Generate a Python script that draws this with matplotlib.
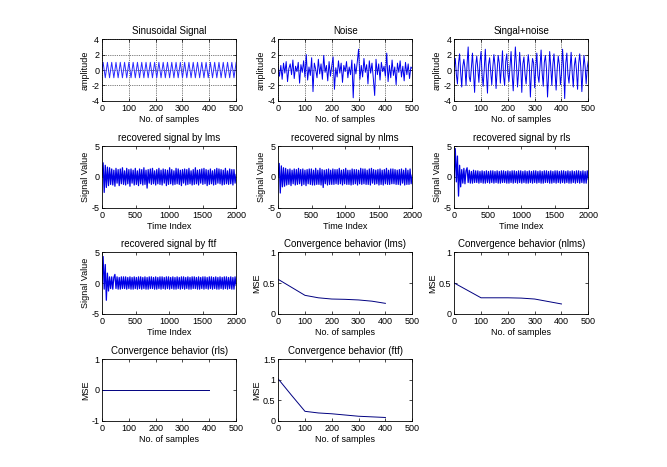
import numpy as np
import matplotlib
matplotlib.use("Agg")
import matplotlib.pyplot as plt
from matplotlib.ticker import FormatStrFormatter

plt.rcParams['font.family'] = ['Liberation Sans', 'DejaVu Sans']

# sinusoid, sampled every 4 samples (period ~16)
sine_x = np.arange(0, 501, 4)
sine_y = [0, 1, 0, -1, 0, 1, 0, -1, 0, 1, 0, -1, 0, 1, 0, -1, 0, 1, 0, -1,
          0, 1, 0, -1, 0, 1, 0, -1, 0, 1, 0, -1, 0, 1, 0, -1, 0, 1, 0, -1,
          0, 1, 0, -1, 0, 1, 0, -1, 0, 1, 0, -1, 0, 1, 0, -1, 0, 1, 0, -1,
          0, 1, 0, -1, 0, 1, 0, -1, 0, 1, 0, -1, 0, 1, 0, -1, 0, 1, 0, -1,
          0, 1, 0, -1, 0, 1, 0, -1, 0, 1, 0, -1, 0, 1, 0, -1, 0, 1, 0, -1,
          0, 1, 0, -1, 0, 1, 0, -1, 0, 1, 0, -1, 0, 1, 0, -1, 0, 1, 0, -1,
          0, 1, 0, -1, 0, 1]

# noise, every 5 samples
noise_x = np.arange(0, 501, 5)
noise_y = [0.3, -0.8, 0.6, -1.2, 0.9, -0.4, 1.1, -1.5, 0.2, 0.8,
           -0.6, 1.3, -1.1, 0.5, -0.2, 1.0, -1.7, 0.7, -0.3, 1.2,
           -0.9, 2.0, -1.3, 0.4, -0.7, 1.6, -2.8, 0.9, 0.1, -1.0,
           1.4, -0.5, 0.8, -1.2, 1.9, -0.3, 0.6, -1.4, 1.1, -0.8,
           0.5, 1.7, -2.5, 0.3, -0.9, 1.2, -0.4, 0.9, -1.6, 0.6,
           -0.2, 1.1, -1.0, 0.4, -0.6, 1.3, -3.6, 0.8, -0.5, 1.0,
           2.7, -1.2, 0.6, -0.9, 1.5, -0.3, 0.7, -1.8, 1.2, -0.4,
           0.9, -1.1, -3.3, 1.4, -0.6, 0.8, -1.3, 1.0, -0.2, 0.5,
           -0.8, 2.2, -1.5, 0.6, -1.0, 1.3, -0.7, 0.4, -1.9, 0.9,
           -0.3, 1.2, -0.9, 0.5, -1.4, 1.0, -0.6, 0.8, -1.1, 0.4,
           0.2]

# signal + noise, every 4 samples
sn_x = np.arange(0, 501, 4)
sn_y = [0.4, 1.5, -0.6, -1.8, 0.9, 2.1, -0.3, -2.2, 0.5, 1.4,
        0.2, -2.0, 0.8, 3.0, -0.9, -1.5, 0.3, 2.2, -0.4, -2.9,
        0.6, 1.8, 0.1, -1.6, 1.0, 2.4, -0.7, -2.1, 0.2, 2.7,
        -0.5, -3.0, 0.7, 1.6, -0.2, -1.9, 0.4, 2.0, 0.6, -2.4,
        -0.1, 1.9, 0.9, -1.7, 0.3, 2.5, -0.8, -2.0, 1.1, 2.1,
        -0.4, -1.5, 0.5, 2.4, -0.6, -2.7, 0.2, 3.0, 0.7, -2.2,
        -0.3, 2.3, 0.4, -2.9, 0.8, 1.7, -0.5, -1.8, 0.1, 2.0,
        0.6, -3.5, -0.2, 1.5, 0.9, -2.3, 0.3, 2.2, -0.7, -1.6,
        0.5, 2.6, -0.4, -2.1, 1.0, 1.9, 0.2, -3.5, -0.6, 2.4,
        0.4, -2.0, 0.8, 2.1, -0.3, -2.6, 0.1, 1.8, 0.7, -1.9,
        -0.5, 2.7, 0.3, -3.7, 0.9, 2.2, -0.6, -1.7, 0.2, 2.3,
        -0.4, -2.2, 0.6, 1.6, -0.1, -2.5, 0.8, 2.1, 0.4, -2.8,
        -0.2, 1.9, 0.5, -1.8, 0.3, 1.2]

# recovered signals, every 16 samples
rec_x = np.arange(0, 2001, 16)
lms_rec = [0.0, 2.3, -2.5, 1.9, -1.7, 1.6, -1.4, 1.5, -1.2, 1.3,
           -1.3, 1.1, -1.5, 1.4, -1.0, 1.2, -1.4, 1.3, -1.1, 1.5,
           -1.2, 1.0, -1.3, 1.4, -1.1, 1.2, -1.5, 1.3, -1.0, 1.1,
           -1.3, 1.4, -1.2, 1.0, -1.4, 1.3, -1.1, 1.2, -1.3, 1.5,
           -1.2, 1.1, -1.8, 1.2, -1.0, 1.3, -1.2, 1.4, -1.1, 1.0,
           -1.3, 1.2, -1.1, 1.4, -1.2, 1.1, -1.3, 1.3, -1.0, 1.2,
           -1.4, 1.1, -1.2, 1.5, -1.1, 1.2, -1.3, 1.0, -1.2, 1.4,
           -1.1, 1.3, -1.2, 1.1, -1.4, 1.2, -1.0, 1.3, -1.3, 1.2,
           -1.2, 1.4, -1.1, 1.0, -1.3, 1.2, -1.2, 1.5, -1.1, 1.1,
           -1.3, 1.2, -1.0, 1.3, -1.2, 1.4, -1.1, 1.2, -1.4, 1.1,
           -1.2, 1.3, -1.1, 1.0, -1.3, 1.2, -1.2, 1.4, -1.0, 1.3,
           -1.1, 1.2, -1.3, 1.1, -1.2, 1.4, -1.1, 1.0, -1.2, 1.3,
           -1.1, 1.2, -1.3, 1.2, -1.0, 0.4]
nlms_rec = [0.0, 2.2, -2.6, 1.8, -1.6, 1.5, -1.5, 1.4, -1.3, 1.2,
            -1.2, 1.3, -1.4, 1.1, -1.1, 1.3, -1.3, 1.2, -1.2, 1.4,
            -1.1, 1.2, -1.4, 1.3, -1.2, 1.1, -1.4, 1.2, -1.1, 1.3,
            -1.2, 1.3, -1.3, 1.1, -1.3, 1.4, -1.2, 1.1, -1.2, 1.4,
            -1.3, 1.2, -1.7, 1.1, -1.1, 1.2, -1.3, 1.3, -1.2, 1.1,
            -1.2, 1.3, -1.2, 1.2, -1.1, 1.2, -1.2, 1.4, -1.1, 1.1,
            -1.3, 1.2, -1.1, 1.4, -1.2, 1.1, -1.2, 1.1, -1.3, 1.3,
            -1.2, 1.2, -1.1, 1.2, -1.3, 1.1, -1.1, 1.4, -1.2, 1.3,
            -1.1, 1.3, -1.2, 1.1, -1.2, 1.3, -1.3, 1.4, -1.0, 1.2,
            -1.2, 1.1, -1.1, 1.2, -1.3, 1.3, -1.2, 1.1, -1.3, 1.2,
            -1.1, 1.4, -1.2, 1.1, -1.2, 1.3, -1.1, 1.3, -1.1, 1.2,
            -1.2, 1.1, -1.2, 1.2, -1.3, 1.3, -1.0, 1.1, -1.3, 1.4,
            -1.2, 1.1, -1.2, 1.3, -1.1, 0.3]
rls_rec = [0.0, 4.6, -0.8, 3.4, -3.1, 1.9, -1.6, 1.2, -1.0, 1.4,
           -1.1, 1.0, 1.5, -0.9, 1.1, -1.0, 0.9, -1.0, 1.1, -0.9,
           1.0, -0.9, 1.0, -1.0, 0.9, -0.9, 1.0, -1.0, 0.9, -1.0,
           1.0, -0.9, 0.9, -1.0, 1.0, -0.9, 1.0, -1.0, 0.9, -0.9,
           1.0, -1.0, 0.9, -1.0, 1.0, -0.9, 1.0, -0.9, 0.9, -1.0,
           1.0, -1.0, 0.9, -0.9, 1.0, -1.0, 1.0, -0.9, 0.9, -1.0,
           1.0, -0.9, 1.0, -1.0, 0.9, -0.9, 1.0, -1.0, 0.9, -1.0,
           1.0, -0.9, 0.9, -1.0, 1.0, -0.9, 1.0, -1.0, 0.9, -0.9,
           1.0, -1.0, 0.9, -1.0, 1.0, -0.9, 1.0, -0.9, 0.9, -1.0,
           1.0, -1.0, 0.9, -0.9, 1.0, -1.0, 1.0, -0.9, 0.9, -1.0,
           1.0, -0.9, 1.0, -1.0, 0.9, -0.9, 1.0, -1.0, 0.9, -1.0,
           1.0, -0.9, 0.9, -1.0, 1.0, -0.9, 1.0, -1.0, 0.9, -0.9,
           1.0, -1.0, 0.9, -1.0, 1.0, -0.4]
ftf_rec = [0.0, 4.3, -1.0, 3.0, -2.8, 1.6, -1.3, 1.0, -0.9, 1.0,
           -1.0, 0.9, 1.4, -0.9, 1.0, -1.0, 0.9, -1.0, 1.0, -0.9,
           1.0, -0.9, 1.0, -1.0, 0.9, -0.9, 1.0, -1.0, 0.9, -1.0,
           1.0, -0.9, 0.9, -1.0, 1.0, -0.9, 1.0, -1.0, 0.9, -0.9,
           1.0, -1.0, 0.9, -1.0, 1.0, -0.9, 1.0, -0.9, 0.9, -1.0,
           1.0, -1.0, 0.9, -0.9, 1.0, -1.0, 1.0, -0.9, 0.9, -1.0,
           1.0, -0.9, 1.0, -1.0, 0.9, -0.9, 1.0, -1.0, 0.9, -1.0,
           1.0, -0.9, 0.9, -1.0, 1.0, -0.9, 1.0, -1.0, 0.9, -0.9,
           1.0, -1.0, 0.9, -1.0, 1.0, -0.9, 1.0, -0.9, 0.9, -1.0,
           1.0, -1.0, 0.9, -0.9, 1.0, -1.0, 1.0, -0.9, 0.9, -1.0,
           1.0, -0.9, 1.0, -1.0, 0.9, -0.9, 1.0, -1.0, 0.9, -1.0,
           1.0, -0.9, 0.9, -1.0, 1.0, -0.9, 1.0, -1.0, 0.9, -0.9,
           1.0, -1.0, 0.9, -1.0, 1.0, -0.4]

# convergence (MSE)
mse_x = [0, 50, 100, 150, 200, 250, 300, 350, 400]
mse_lms = [0.56, 0.43, 0.30, 0.26, 0.24, 0.235, 0.225, 0.205, 0.17]
mse_nlms = [0.50, 0.38, 0.26, 0.26, 0.26, 0.255, 0.24, 0.20, 0.16]
mse_rls = [0, 0, 0, 0, 0, 0, 0, 0, 0]
mse_ftf = [1.02, 0.62, 0.23, 0.19, 0.17, 0.14, 0.11, 0.095, 0.08]

fig = plt.figure(figsize=(6.67, 4.67), dpi=100)

lefts = [0.153, 0.417, 0.681]
bottoms = [0.784, 0.555, 0.328, 0.099]
w, h = 0.201, 0.132


def make_ax(r, c):
    ax = fig.add_axes([lefts[c], bottoms[r], w, h])
    ax.tick_params(direction='in', top=True, right=True, length=2.5,
                   width=0.5, labelsize=6.5, pad=2)
    for s in ax.spines.values():
        s.set_linewidth(0.6)
    ax.yaxis.set_major_formatter(FormatStrFormatter('%g'))
    return ax


def style(ax, title, xl, yl, xlim, xt, ylim, yt, grid=False):
    ax.set_title(title, fontsize=7, pad=4)
    ax.set_xlabel(xl, fontsize=6.5, labelpad=2)
    ax.set_ylabel(yl, fontsize=6.5, labelpad=1)
    ax.set_xlim(xlim)
    ax.set_xticks(xt)
    ax.set_ylim(ylim)
    ax.set_yticks(yt)
    if grid:
        ax.grid(True, linestyle=':', color='k', linewidth=0.5)


t500 = [0, 100, 200, 300, 400, 500]
t2000 = [0, 500, 1000, 1500, 2000]

ax = make_ax(0, 0)
ax.plot(sine_x, sine_y, color='#2a2aff', lw=0.7)
style(ax, 'Sinusoidal Signal', 'No. of samples', 'amplitude', (0, 500), t500, (-4, 4), [-4, -2, 0, 2, 4], True)

ax = make_ax(0, 1)
ax.plot(noise_x, noise_y, color='#0000ee', lw=0.7)
style(ax, 'Noise', 'No. of samples', 'amplitude', (0, 500), t500, (-4, 4), [-4, -2, 0, 2, 4], True)

ax = make_ax(0, 2)
ax.plot(sn_x, sn_y, color='#0000ee', lw=0.7)
style(ax, 'Singal+noise', 'No. of samples', 'amplitude', (0, 500), t500, (-4, 4), [-4, -2, 0, 2, 4], True)

rec = [(1, 0, lms_rec, 'recovered signal by lms'),
       (1, 1, nlms_rec, 'recovered signal by nlms'),
       (1, 2, rls_rec, 'recovered signal by rls'),
       (2, 0, ftf_rec, 'recovered signal by ftf')]
for r, c, y, t in rec:
    ax = make_ax(r, c)
    ax.plot(rec_x, y, color='#0000e6', lw=0.9)
    style(ax, t, 'Time Index', 'Signal Value', (0, 2000), t2000, (-5, 5), [-5, 0, 5])

conv = [(2, 1, mse_lms, 'Convergence behavior (lms)', (0, 1), [0, 0.5, 1]),
        (2, 2, mse_nlms, 'Convergence behavior (nlms)', (0, 1), [0, 0.5, 1]),
        (3, 0, mse_rls, 'Convergence behavior (rls)', (-1, 1), [-1, 0, 1]),
        (3, 1, mse_ftf, 'Convergence behavior (ftf)', (0, 1.5), [0, 0.5, 1, 1.5])]
for r, c, y, t, yl, yt in conv:
    ax = make_ax(r, c)
    ax.plot(mse_x, y, color='#000080', lw=0.7)
    style(ax, t, 'No. of samples', 'MSE', (0, 500), t500, yl, yt)

fig.savefig('out.png', dpi=100)
